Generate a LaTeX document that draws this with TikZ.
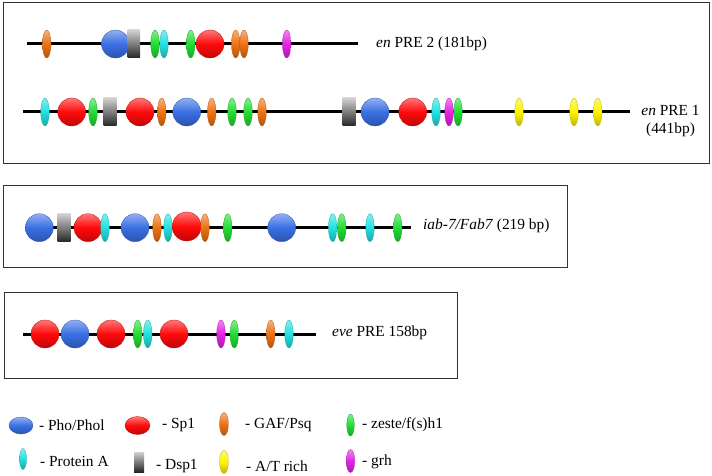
\documentclass[tikz,border=0pt]{standalone}
\usepackage{fontspec}
\setmainfont{Liberation Serif}
\usetikzlibrary{shapes.geometric}
\definecolor{phoC}{HTML}{3A6FE4}
\definecolor{spC}{HTML}{FF0A0A}
\definecolor{gafC}{HTML}{EE7212}
\definecolor{zeC}{HTML}{22DD33}
\definecolor{prC}{HTML}{22E0E0}
\definecolor{atC}{HTML}{FFF200}
\definecolor{grhC}{HTML}{E524E5}
\definecolor{frameC}{HTML}{333333}
\tikzset{
  site/.style={inner sep=0pt, outer sep=0pt, line width=0.3pt},
  bead/.style={site, circle, minimum size=28pt},
  pill/.style={site, ellipse, minimum width=8.5pt, minimum height=28pt},
  tint/.style={draw=#1!75!black, top color=#1!55!white, bottom color=#1!75!black, middle color=#1},
  pho/.style={bead, tint=phoC},
  spo/.style={bead, tint=spC},
  gaf/.style={pill, tint=gafC},
  zes/.style={pill, tint=zeC},
  pra/.style={pill, tint=prC},
  atr/.style={pill, tint=atC},
  grh/.style={pill, tint=grhC},
  dsp/.style={site, rectangle, minimum width=13pt, minimum height=28pt, top color=black!18, bottom color=black!85},
  dna/.style={line width=3pt, black},
  frame/.style={draw=frameC, line width=1.1pt},
  lab/.style={inner sep=0pt, anchor=west, font=\fontsize{15.4}{17.5}\selectfont},
  lpho/.style={pho, minimum width=24pt, minimum height=17pt, ellipse},
  lspo/.style={spo, minimum width=25pt, minimum height=18pt, ellipse},
  lsmall/.style={minimum width=8pt, minimum height=22pt},
}
\begin{document}
\begin{tikzpicture}[x=1pt, y=-1pt]
\useasboundingbox (0,0) rectangle (712,476);
% frames
\node[frame, rectangle, minimum width=706pt, minimum height=161pt, anchor=north west, inner sep=0pt] (box1) at (3,2) {};
\node[frame, rectangle, minimum width=564pt, minimum height=82pt, anchor=north west, inner sep=0pt] (box2) at (3,185) {};
\node[frame, rectangle, minimum width=453pt, minimum height=86pt, anchor=north west, inner sep=0pt] (box3) at (4,292) {};

% ---- en PRE 2 ----
\coordinate (a0) at (27,44);
\coordinate (a9) at (358,44);
\draw[dna] (a0) -- (a9);
\node[gaf] (a1) at (46.7,44) {};
\node[pho] (a2) at (115.5,44) {};
\node[dsp, minimum width=12.5pt] (a3) at (133.8,44) {};
\node[zes] (a4) at (155,44) {};
\node[pra] (a5) at (164,44) {};
\node[zes] (a6) at (190.7,44) {};
\node[spo] (a7) at (210,44) {};
\node[gaf] (a8) at (235.7,44) {};
\node[gaf] (a10) at (244,44) {};
\node[grh] (a11) at (286.7,44) {};
\node[lab] (at) at (376,44) {\textit{en} PRE 2 (181bp)};

% ---- en PRE 1 ----
\coordinate (b0) at (23,112);
\coordinate (bz) at (630,112);
\draw[dna] (b0) -- (bz);
\node[pra] (b1) at (45,112) {};
\node[spo] (b2) at (71.7,112) {};
\node[zes] (b3) at (93,112) {};
\node[dsp] (b4) at (110,112) {};
\node[spo] (b5) at (140,112) {};
\node[gaf] (b6) at (161.7,112) {};
\node[pho] (b7) at (186.7,112) {};
\node[gaf] (b8) at (211.7,112) {};
\node[zes] (b9) at (232,112) {};
\node[zes] (b10) at (248,112) {};
\node[gaf] (b11) at (262,112) {};
\node[dsp] (b12) at (349,112) {};
\node[pho] (b13) at (375,112) {};
\node[spo] (b14) at (412.7,112) {};
\node[pra] (b15) at (436,112) {};
\node[grh] (b16) at (449,112) {};
\node[zes] (b17) at (458,112) {};
\node[atr] (b18) at (519,112) {};
\node[atr] (b19) at (574,112) {};
\node[atr] (b20) at (597.7,112) {};
\node[lab, anchor=center, align=center] (bt) at (670.5,121) {\textit{en} PRE 1\\(441bp)};

% ---- iab-7/Fab7 ----
\coordinate (c0) at (28,227.7);
\coordinate (cz) at (411,227.7);
\draw[dna] (c0) -- (cz);
\node[pho] (c1) at (39.3,227.7) {};
\node[dsp] (c2) at (64,227.7) {};
\node[spo] (c3) at (88,227.7) {};
\node[pra] (c4) at (105,227.7) {};
\node[pho] (c5) at (135,227.7) {};
\node[gaf] (c6) at (157,227.7) {};
\node[pra] (c7) at (168,227.7) {};
\node[spo, minimum size=29pt] (c8) at (186.7,226.5) {};
\node[gaf] (c9) at (205,227.7) {};
\node[zes] (c10) at (227.7,227.7) {};
\node[pho] (c11) at (281.7,227.7) {};
\node[pra] (c12) at (332.7,227.7) {};
\node[zes] (c13) at (341.7,227.7) {};
\node[pra] (c14) at (370,227.7) {};
\node[zes] (c15) at (397.7,227.7) {};
\node[lab] (ct) at (423,226) {\textit{iab-7/Fab7} (219 bp)};

% ---- eve PRE ----
\coordinate (d0) at (23,334);
\coordinate (dz) at (316,334);
\draw[dna] (d0) -- (dz);
\node[spo] (d1) at (45,334) {};
\node[pho] (d2) at (75,334) {};
\node[spo] (d3) at (111,334) {};
\node[zes] (d4) at (137.7,334) {};
\node[pra] (d5) at (147.7,334) {};
\node[spo] (d6) at (174,334) {};
\node[grh] (d7) at (221,334) {};
\node[zes] (d8) at (234.3,334) {};
\node[gaf] (d9) at (270.7,334) {};
\node[pra] (d10) at (289,334) {};
\node[lab] (dt) at (332,333) {\textit{eve} PRE 158bp};

% ---- legend ----
\node[lpho] (k1) at (21,425.5) {};
\node[lab] (k1t) at (39,425) {- Pho/Phol};
\node[lspo] (k2) at (137.5,425.5) {};
\node[lab] (k2t) at (162,425) {- Sp1};
\node[gaf, minimum width=9pt, minimum height=23pt] (k3) at (224,424) {};
\node[lab] (k3t) at (245,425) {- GAF/Psq};
\node[zes, minimum width=7.5pt, minimum height=22pt] (k4) at (350.5,425) {};
\node[lab] (k4t) at (362,425) {- zeste/f(s)h1};
\node[pra, minimum width=7pt, minimum height=21pt] (k5) at (23,459) {};
\node[lab] (k5t) at (40,461) {- Protein A};
\node[dsp, minimum width=10pt, minimum height=20pt] (k6) at (139,462) {};
\node[lab] (k6t) at (156,466) {- Dsp1};
\node[atr, minimum width=9pt, minimum height=23pt] (k7) at (224,462) {};
\node[lab] (k7t) at (246,466) {- A/T rich};
\node[grh, minimum width=8.5pt, minimum height=23pt] (k8) at (350.5,461) {};
\node[lab] (k8t) at (362,462) {- grh};
\end{tikzpicture}
\end{document}
